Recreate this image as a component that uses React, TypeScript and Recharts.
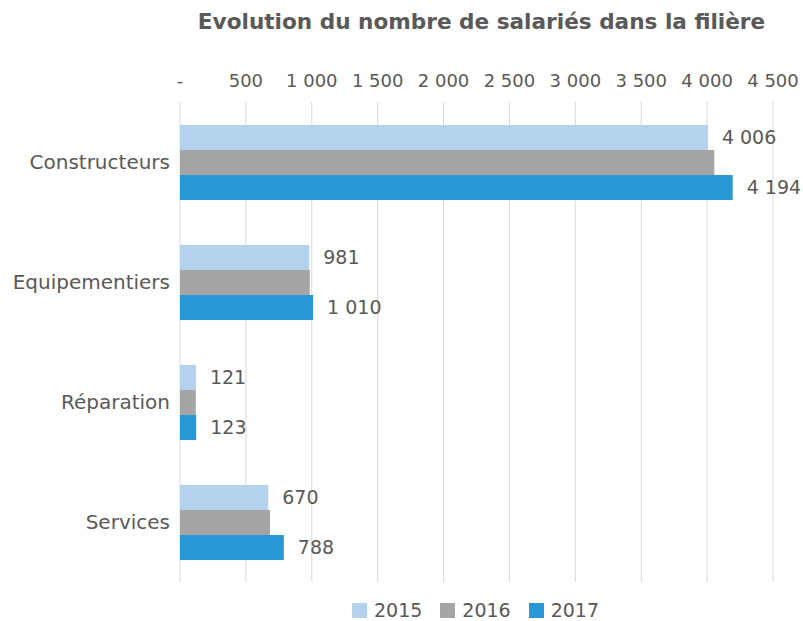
import { BarChart, Bar, XAxis, YAxis, CartesianGrid, Legend, LabelList } from 'recharts'

const categories = ['Constructeurs', 'Equipementiers', 'Réparation', 'Services']
const values2015 = [4006, 981, 121, 670]
const values2016 = [4055, 985, 120, 683]
const values2017 = [4194, 1010, 123, 788]
const xTicks = [0, 500, 1000, 1500, 2000, 2500, 3000, 3500, 4000, 4500]

const data = categories.map((name, i) => ({
  name,
  y2015: values2015[i],
  y2016: values2016[i],
  y2017: values2017[i],
}))

const TEXT = '#595959'
const FONT = '"DejaVu Sans", sans-serif'

const fmt = (v: number) => (v === 0 ? '-' : String(v).replace(/\B(?=(\d{3})+(?!\d))/g, ' '))

const renderLegend = (props: any) => (
  <div style={{ display: 'flex', justifyContent: 'center', paddingLeft: 196, fontFamily: FONT }}>
    {(props.payload || []).map((p: any) => (
      <div key={p.value} style={{ display: 'flex', alignItems: 'center', marginRight: 18 }}>
        <span style={{ width: 15, height: 15, background: p.color, display: 'inline-block', marginRight: 7 }} />
        <span style={{ color: TEXT, fontSize: 19 }}>{p.value}</span>
      </div>
    ))}
  </div>
)

export default function App() {
  return (
    <div style={{ position: 'absolute', left: 0, top: 0, width: 803, height: 621, background: '#fff', fontFamily: FONT }}>
      <div
        style={{
          position: 'absolute',
          top: 9,
          left: 0,
          width: 803,
          textAlign: 'center',
          paddingLeft: 160,
          boxSizing: 'border-box',
          fontSize: 21.6,
          fontWeight: 700,
          color: TEXT,
          fontFamily: FONT,
        }}
      >
        Evolution du nombre de salariés dans la filière
      </div>
      <BarChart
        width={803}
        height={621}
        data={data}
        layout="vertical"
        margin={{ top: 72, right: 30, bottom: 14, left: 0 }}
        barGap={0}
        barSize={25}
      >
        <CartesianGrid horizontal={false} stroke="#d9d9d9" />
        <XAxis
          type="number"
          orientation="top"
          domain={[0, 4500]}
          ticks={xTicks}
          tickFormatter={fmt}
          axisLine={false}
          tickLine={false}
          tickMargin={9}
          height={30}
          tick={{ fill: TEXT, fontSize: 18, fontFamily: FONT }}
        />
        <YAxis
          type="category"
          dataKey="name"
          width={180}
          axisLine={false}
          tickLine={false}
          tickMargin={4}
          tick={{ fill: TEXT, fontSize: 20, fontFamily: FONT }}
        />
        <Legend verticalAlign="bottom" height={25} wrapperStyle={{ bottom: -3 }} content={renderLegend} />
        <Bar dataKey="y2015" name="2015" fill="#b4d1ee" isAnimationActive={false}>
          <LabelList dataKey="y2015" position="right" offset={14} formatter={(v: any) => fmt(Number(v))} fill={TEXT} fontSize={19} fontFamily={FONT} />
        </Bar>
        <Bar dataKey="y2016" name="2016" fill="#a5a5a5" isAnimationActive={false} />
        <Bar dataKey="y2017" name="2017" fill="#2898d6" isAnimationActive={false}>
          <LabelList dataKey="y2017" position="right" offset={14} formatter={(v: any) => fmt(Number(v))} fill={TEXT} fontSize={19} fontFamily={FONT} />
        </Bar>
      </BarChart>
    </div>
  )
}
